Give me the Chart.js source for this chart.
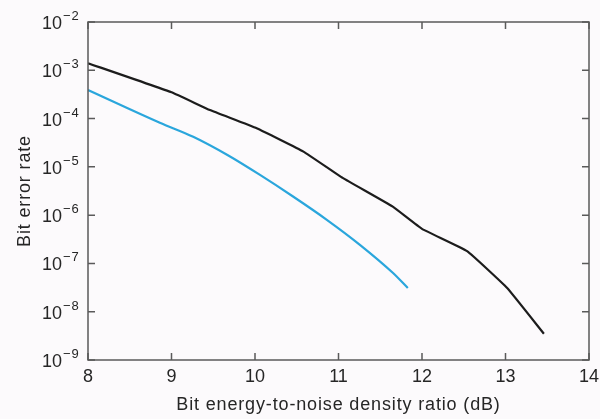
<!DOCTYPE html>
<html>
<head>
<meta charset="utf-8">
<script src="https://cdn.jsdelivr.net/npm/chart.js@4/dist/chart.umd.min.js"></script>
<style>
    html, body { margin: 0; padding: 0; background: #fcfafc; }
    #wrap { width: 600px; height: 419px; position: relative; }
</style>
</head>
<body>
<div id="wrap"><canvas id="berChart"></canvas></div>
<script>
// values
const xTicks = [8, 9, 10, 11, 12, 13, 14];
const yExponents = [-2, -3, -4, -5, -6, -7, -8, -9];

const upperEbNo = [8, 9, 9.46, 10.02, 10.58, 11.05, 11.65, 12.0, 12.54, 13.02, 13.46];
const upperBer = [1.4e-3, 3.5e-4, 1.5e-4, 6.3e-5, 2.07e-5, 5.9e-6, 1.5e-6, 5.2e-7, 1.8e-7, 3.1e-8, 3.5e-9];

const lowerEbNo = [8, 8.86, 9.26, 9.67, 10.06, 10.46, 10.86, 11.26, 11.65, 11.83];
const lowerBer = [3.9e-4, 8.2e-5, 4.2e-5, 1.76e-5, 6.8e-6, 2.4e-6, 8.0e-7, 2.4e-7, 6.4e-8, 3.1e-8];

const xTitle = 'Bit energy-to-noise density ratio (dB)';
const yTitle = 'Bit error rate';

const toPoints = (xs, ys) => xs.map((x, i) => ({ x: x, y: ys[i] }));

const axisColor = '#5a5a5a';
const textColor = '#262626';
const fontFamily = '"Liberation Sans", Arial, Helvetica, sans-serif';

// frame, inward ticks and all labels
const framePlugin = {
    id: 'frame',
    afterDraw(chart) {
        const ctx = chart.ctx;
        const area = chart.chartArea;
        const xs = chart.scales.x;
        const ys = chart.scales.y;
        const tickLen = 7;

        ctx.save();
        ctx.strokeStyle = axisColor;
        ctx.lineWidth = 1.5;
        ctx.strokeRect(area.left, area.top, area.right - area.left, area.bottom - area.top);

        ctx.beginPath();
        xTicks.forEach(v => {
            const px = xs.getPixelForValue(v);
            ctx.moveTo(px, area.bottom);
            ctx.lineTo(px, area.bottom - tickLen);
            ctx.moveTo(px, area.top);
            ctx.lineTo(px, area.top + tickLen);
        });
        yExponents.forEach(e => {
            const py = ys.getPixelForValue(Math.pow(10, e));
            ctx.moveTo(area.left, py);
            ctx.lineTo(area.left + tickLen, py);
            ctx.moveTo(area.right, py);
            ctx.lineTo(area.right - tickLen, py);
        });
        ctx.stroke();

        ctx.fillStyle = textColor;
        ctx.textBaseline = 'alphabetic';

        // x tick labels
        ctx.font = '18px ' + fontFamily;
        ctx.textAlign = 'center';
        xTicks.forEach(v => {
            ctx.fillText(String(v), xs.getPixelForValue(v), area.bottom + 22);
        });

        // y tick labels: 10 with superscript exponent
        yExponents.forEach(e => {
            const py = ys.getPixelForValue(Math.pow(10, e));
            ctx.font = '18px ' + fontFamily;
            ctx.textAlign = 'right';
            ctx.letterSpacing = '0px';
            ctx.fillText('10', area.left - 26, py + 7);
            ctx.font = '13px ' + fontFamily;
            ctx.textAlign = 'left';
            ctx.letterSpacing = '1px';
            ctx.fillText('\u2212' + Math.abs(e), area.left - 25, py - 2);
        });

        // axis titles
        ctx.font = '18px ' + fontFamily;
        ctx.letterSpacing = '0.85px';
        ctx.textAlign = 'center';
        ctx.fillText(xTitle, (area.left + area.right) / 2, 410);

        ctx.translate(30, (area.top + area.bottom) / 2);
        ctx.rotate(-Math.PI / 2);
        ctx.fillText(yTitle, 0, 0);
        ctx.restore();
    }
};

const canvas = document.getElementById('berChart');
new Chart(canvas, {
    type: 'line',
    data: {
        datasets: [
            {
                label: 'Upper curve',
                data: toPoints(upperEbNo, upperBer),
                borderColor: '#1c1c1c',
                borderWidth: 2.2,
                pointRadius: 0,
                tension: 0.1,
                fill: false
            },
            {
                label: 'Lower curve',
                data: toPoints(lowerEbNo, lowerBer),
                borderColor: '#2aa6dc',
                borderWidth: 2.2,
                pointRadius: 0,
                cubicInterpolationMode: 'monotone',
                fill: false
            }
        ]
    },
    options: {
        responsive: true,
        maintainAspectRatio: false,
        animation: false,
        layout: {
            padding: { left: 88, right: 11, top: 22, bottom: 59 }
        },
        plugins: {
            legend: { display: false },
            tooltip: { enabled: false }
        },
        scales: {
            x: {
                type: 'linear',
                display: false,
                min: 8,
                max: 14
            },
            y: {
                type: 'logarithmic',
                display: false,
                min: 1e-9,
                max: 1e-2
            }
        }
    },
    plugins: [framePlugin]
});
</script>
</body>
</html>
